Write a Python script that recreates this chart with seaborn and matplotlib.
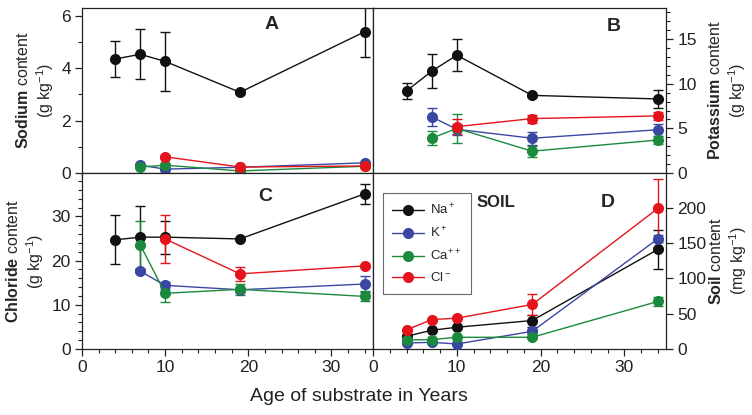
import numpy as np
import pandas as pd
import matplotlib
matplotlib.use("Agg")
import matplotlib.pyplot as plt
from matplotlib.ticker import MultipleLocator
import seaborn as sns

# ages of substrate (years)
AGE = [4, 7, 10, 19, 34]
IONS = ["Na$^+$", "K$^+$", "Ca$^{++}$", "Cl$^-$"]
COLORS = ["#111111", "#3a47a3", "#1b8a3c", "#e5141c"]
nan = np.nan

# A - sodium content (g/kg)
na_A = [4.35, 4.53, 4.26, 3.08, 5.39]
na_A_err = [0.70, 0.95, 1.13, 0.08, 0.95]
k_A = [nan, 0.30, 0.15, 0.22, 0.39]
k_A_err = [nan, 0.04, 0.04, 0.03, 0.04]
ca_A = [nan, 0.23, 0.30, 0.08, 0.26]
ca_A_err = [nan, 0.04, 0.04, 0.03, 0.03]
cl_A = [nan, nan, 0.62, 0.23, 0.27]
cl_A_err = [nan, nan, 0.07, 0.04, 0.04]

# B - potassium content (g/kg)
na_B = [9.2, 11.4, 13.2, 8.7, 8.3]
na_B_err = [0.9, 1.9, 1.8, 0.2, 1.05]
k_B = [nan, 6.3, 4.9, 3.9, 4.85]
k_B_err = [nan, 1.0, 0.6, 0.75, 0.65]
ca_B = [nan, 3.9, 5.0, 2.45, 3.7]
ca_B_err = [nan, 0.8, 1.6, 0.6, 0.5]
cl_B = [nan, nan, 5.2, 6.1, 6.4]
cl_B_err = [nan, nan, 0.8, 0.45, 0.45]

# C - chloride content (g/kg)
na_C = [24.7, 25.3, 25.3, 24.9, 35.1]
na_C_err = [5.5, 7.1, 3.7, 0.3, 2.2]
k_C = [nan, 17.6, 14.4, 13.4, 14.7]
k_C_err = [nan, 0.4, 0.75, 0.4, 1.9]
ca_C = [nan, 23.6, 12.6, 13.5, 11.9]
ca_C_err = [nan, 5.4, 2.0, 1.2, 1.15]
cl_C = [nan, nan, 24.9, 17.0, 18.8]
cl_C_err = [nan, nan, 5.4, 1.6, 0.3]

# D - soil content (mg/kg)
na_D = [18, 26.5, 30.8, 40.3, 141]
na_D_err = [1, 1, 1, 8.5, 28]
k_D = [8.5, 9.5, 7.1, 25, 156]
k_D_err = [1, 1, 1, 4, 5]
ca_D = [12.8, 13.3, 16.6, 16.6, 67.3]
ca_D_err = [1, 1, 1, 1, 6.5]
cl_D = [27, 41.7, 43.6, 63, 199]
cl_D_err = [1, 1, 1, 14.5, 42]

sns.set_theme(style="ticks")
plt.rcParams["font.family"] = ["Liberation Sans", "DejaVu Sans"]
plt.rcParams["mathtext.fontset"] = "custom"
plt.rcParams["mathtext.rm"] = "Liberation Sans"
plt.rcParams["mathtext.bf"] = "Liberation Sans:bold"
plt.rcParams["mathtext.it"] = "Liberation Sans:italic"


def long_frame(series):
    rows = []
    for ion, (vals, errs) in zip(IONS, series):
        for a, v, e in zip(AGE, vals, errs):
            if not np.isnan(v):
                rows.append({"age": a, "value": v, "err": e, "ion": ion})
    return pd.DataFrame(rows)


def draw(ax, series, legend=False):
    df = long_frame(series)
    for ion, c in zip(IONS, COLORS):
        sub = df[df["ion"] == ion]
        ax.errorbar(sub["age"], sub["value"], yerr=sub["err"], fmt="none",
                    ecolor=c, elinewidth=1, capsize=3.5, capthick=1, zorder=2)
    sns.lineplot(data=df, x="age", y="value", hue="ion", hue_order=IONS,
                 palette=COLORS, marker="o", markersize=8, markeredgewidth=0,
                 linewidth=1, errorbar=None, legend=legend, ax=ax, zorder=3)
    ax.set_xlim(0, 35)
    ax.set_xlabel("")
    ax.xaxis.set_major_locator(MultipleLocator(10))
    ax.xaxis.set_minor_locator(MultipleLocator(2))
    for s in ax.spines.values():
        s.set_visible(True)
        s.set_linewidth(0.9)
        s.set_color("#222222")
    ax.tick_params(which="major", length=5, width=0.9, labelsize=12.5,
                   colors="#222222", pad=3)
    ax.tick_params(which="minor", length=3, width=0.8, colors="#222222")


fig = plt.figure(figsize=(7.52, 4.15), dpi=100)
axA = fig.add_axes([0.109, 0.583, 0.387, 0.398])
axB = fig.add_axes([0.496, 0.583, 0.390, 0.398])
axC = fig.add_axes([0.109, 0.159, 0.387, 0.424])
axD = fig.add_axes([0.496, 0.159, 0.390, 0.424])

draw(axA, [(na_A, na_A_err), (k_A, k_A_err), (ca_A, ca_A_err), (cl_A, cl_A_err)])
draw(axB, [(na_B, na_B_err), (k_B, k_B_err), (ca_B, ca_B_err), (cl_B, cl_B_err)])
draw(axC, [(na_C, na_C_err), (k_C, k_C_err), (ca_C, ca_C_err), (cl_C, cl_C_err)])
draw(axD, [(na_D, na_D_err), (k_D, k_D_err), (ca_D, ca_D_err), (cl_D, cl_D_err)], legend=True)

LABEL_FS = 11.5

# A
axA.set_ylim(0, 6.3)
axA.yaxis.set_major_locator(MultipleLocator(2))
axA.yaxis.set_minor_locator(MultipleLocator(1))
axA.tick_params(axis="x", labelbottom=False)
axA.set_ylabel("$\\bf{Sodium}$ content\n(g kg$^{-1}$)", fontsize=LABEL_FS, labelpad=4)
axA.text(0.65, 0.9, "A", transform=axA.transAxes, fontsize=14, fontweight="bold", ha="center", va="center")

# B
axB.set_ylim(0, 18.5)
axB.yaxis.set_major_locator(MultipleLocator(5))
axB.yaxis.set_minor_locator(MultipleLocator(1))
axB.yaxis.tick_right()
axB.yaxis.set_label_position("right")
axB.tick_params(axis="x", labelbottom=False)
axB.set_ylabel("$\\bf{Potassium}$ content\n(g kg$^{-1}$)", fontsize=LABEL_FS, labelpad=7)
axB.text(0.82, 0.885, "B", transform=axB.transAxes, fontsize=14, fontweight="bold", ha="center", va="center")

# C
axC.set_ylim(0, 39.8)
axC.yaxis.set_major_locator(MultipleLocator(10))
axC.yaxis.set_minor_locator(MultipleLocator(2))
axC.set_ylabel("$\\bf{Chloride}$ content\n(g kg$^{-1}$)", fontsize=LABEL_FS, labelpad=4)
axC.text(0.63, 0.865, "C", transform=axC.transAxes, fontsize=14, fontweight="bold", ha="center", va="center")

# D
axD.set_ylim(0, 249)
axD.yaxis.set_major_locator(MultipleLocator(50))
axD.yaxis.set_minor_locator(plt.NullLocator())
axD.yaxis.tick_right()
axD.yaxis.set_label_position("right")
axD.set_ylabel("$\\bf{Soil}$ content\n(mg kg$^{-1}$)", fontsize=LABEL_FS, labelpad=1)
axD.text(0.80, 0.83, "D", transform=axD.transAxes, fontsize=14, fontweight="bold", ha="center", va="center")
axD.text(0.42, 0.83, "SOIL", transform=axD.transAxes, fontsize=12, fontweight="bold", ha="center", va="center")
leg = axD.legend(loc="upper left", bbox_to_anchor=(0.034, 0.886), borderaxespad=0,
                 fontsize=9.5, frameon=True, fancybox=False, handlelength=2.4,
                 labelspacing=0.6, borderpad=0.7, handletextpad=0.5)
leg.get_frame().set_edgecolor("#444444")
leg.get_frame().set_linewidth(0.8)

fig.text(0.477, 0.025, "Age of substrate in Years", ha="center", va="bottom",
         fontsize=14, color="#222222")

fig.savefig("out.png", dpi=100)
